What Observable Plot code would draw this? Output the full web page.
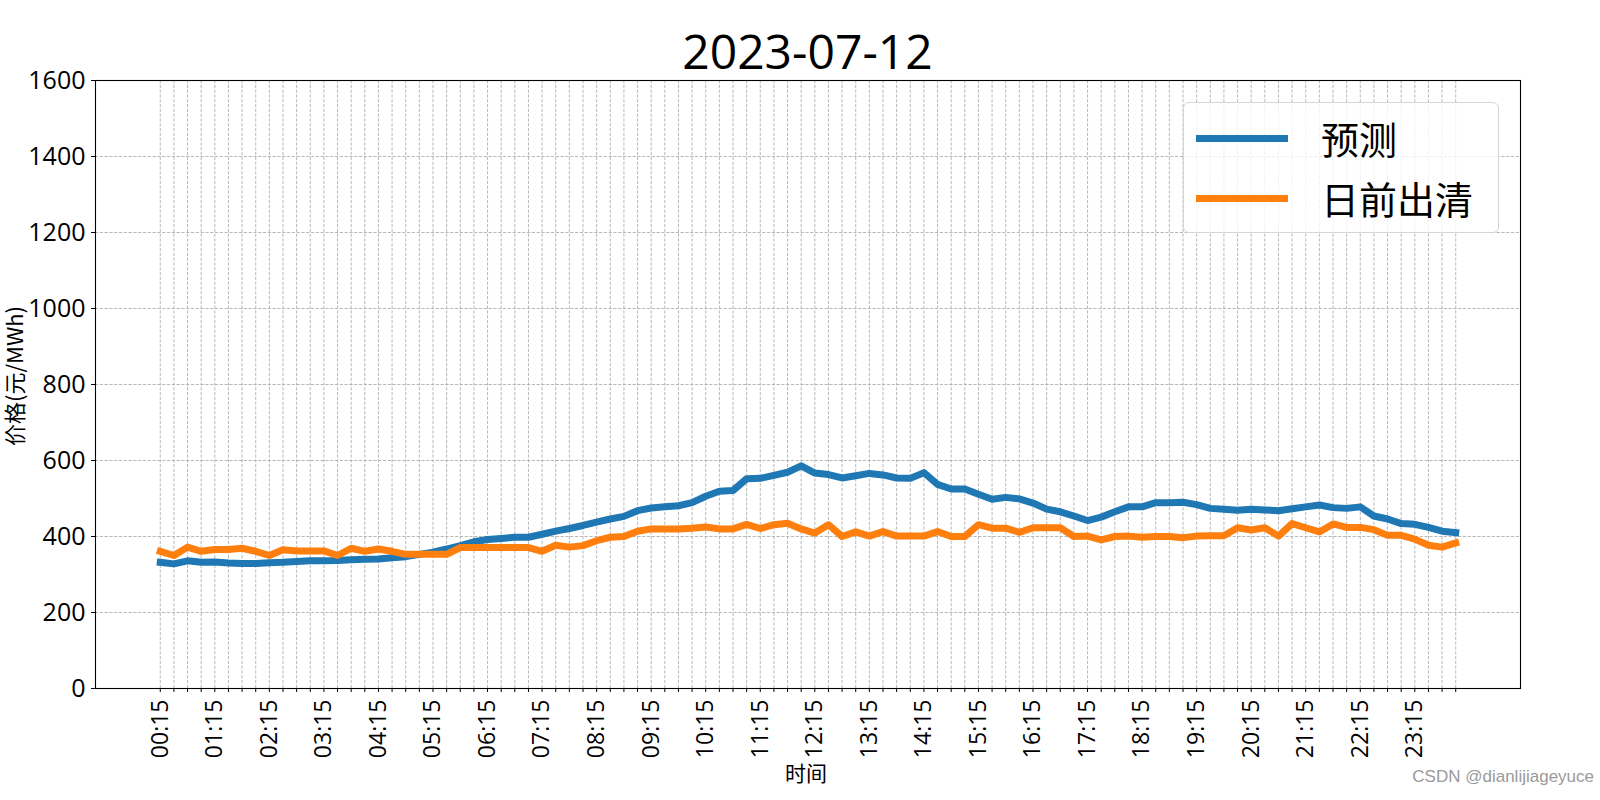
<!DOCTYPE html>
<html>
<head>
<meta charset="utf-8">
<script src="https://cdn.jsdelivr.net/npm/d3@7"></script>
<script src="https://cdn.jsdelivr.net/npm/@observablehq/plot@0.6"></script>
<style>
  html, body { margin: 0; padding: 0; background: #fff; overflow: hidden; }
  #wrap { position: relative; width: 1600px; height: 800px; font-family: "Open Sans", "Noto Sans CJK SC", sans-serif; }
  #chart { position: absolute; left: 0; top: 0; }
  .abs { position: absolute; white-space: nowrap; }
  #title { left: 0; width: 1615px; top: 20px; text-align: center; font-size: 48px; line-height: 62px; color: #000; }
  #ylabel { left: 13px; top: 376px; transform: translate(-50%, -50%) rotate(-90deg); font-size: 22px; line-height: 22px; font-family: "Noto Sans CJK SC", sans-serif; }
  #xlabel { left: 806px; top: 772px; transform: translate(-50%, -50%); font-size: 21px; font-family: "Noto Sans CJK SC", sans-serif; }
  #legend { left: 1183px; top: 102px; width: 314px; height: 129px; border: 1px solid #d5d5d5; border-radius: 6px; background: rgba(255,255,255,0.8); }
  .lg-line { position: absolute; left: 12px; width: 92px; height: 7px; }
  .lg-text { position: absolute; left: 137px; font-size: 38px; line-height: 50px; font-family: "Noto Sans CJK SC", sans-serif; color: #000; }
  #watermark { right: 6px; top: 767px; font-size: 17px; color: #9a9a9a; font-family: "Liberation Sans", Arial, sans-serif; }
</style>
</head>
<body>
<div id="wrap">
  <div id="chart"></div>
  <div id="title" class="abs">2023-07-12</div>
  <div id="ylabel" class="abs">价格(元/MWh)</div>
  <div id="xlabel" class="abs">时间</div>
  <div id="legend" class="abs"></div>
  <div id="watermark" class="abs">CSDN @dianlijiageyuce</div>
</div>
<script>
const times = [
  "00:15","00:30","00:45","01:00","01:15","01:30","01:45","02:00",
  "02:15","02:30","02:45","03:00","03:15","03:30","03:45","04:00",
  "04:15","04:30","04:45","05:00","05:15","05:30","05:45","06:00",
  "06:15","06:30","06:45","07:00","07:15","07:30","07:45","08:00",
  "08:15","08:30","08:45","09:00","09:15","09:30","09:45","10:00",
  "10:15","10:30","10:45","11:00","11:15","11:30","11:45","12:00",
  "12:15","12:30","12:45","13:00","13:15","13:30","13:45","14:00",
  "14:15","14:30","14:45","15:00","15:15","15:30","15:45","16:00",
  "16:15","16:30","16:45","17:00","17:15","17:30","17:45","18:00",
  "18:15","18:30","18:45","19:00","19:15","19:30","19:45","20:00",
  "20:15","20:30","20:45","21:00","21:15","21:30","21:45","22:00",
  "22:15","22:30","22:45","23:00","23:15","23:30","23:45","24:00"
];
const labeledTimes = [
  "00:15","01:15","02:15","03:15","04:15","05:15","06:15","07:15",
  "08:15","09:15","10:15","11:15","12:15","13:15","14:15","15:15",
  "16:15","17:15","18:15","19:15","20:15","21:15","22:15","23:15"
];
const forecast = [
  332,328,336,332,333,330,329,329,331,332,334,336,336,337,339,340,
  341,344,347,353,359,367,376,386,392,395,398,398,406,414,421,429,
  438,446,453,468,475,478,481,489,506,519,521,552,553,561,569,586,
  567,563,554,560,566,562,554,553,568,537,525,525,511,498,503,499,
  488,472,465,454,442,451,465,478,478,489,489,490,484,474,472,469,
  472,470,468,473,478,483,476,474,478,454,446,434,432,424,414,410
];
const dayAhead = [
  361,350,372,361,366,366,369,361,350,365,362,362,362,350,369,361,
  367,361,353,353,353,353,371,371,371,371,371,371,361,377,372,376,
  389,398,400,414,420,420,420,422,425,420,420,432,421,431,435,420,
  409,431,400,412,401,413,401,401,401,413,400,400,431,422,422,411,
  423,423,423,400,401,391,400,401,398,400,400,397,401,402,402,423,
  417,423,401,434,423,412,433,424,424,418,403,403,393,377,372,383
];
const yTicks = [0, 200, 400, 600, 800, 1000, 1200, 1400, 1600];
const seriesNames = ["预测", "日前出清"];
const seriesColors = ["#1f77b4", "#ff7f0e"];

const idx = times.map((t, i) => i);
const rowsF = times.map((t, i) => ({i, t, v: forecast[i]}));
const rowsD = times.map((t, i) => ({i, t, v: dayAhead[i]}));
const labelSet = new Set(labeledTimes);
const n = times.length;
const pad = (n - 1) * 0.05;

const grid = {stroke: "#b0b0b0", strokeOpacity: 1, strokeWidth: 0.9, strokeDasharray: "3.2,1.6"};

const plot = Plot.plot({
  width: 1600,
  height: 800,
  marginLeft: 95,
  marginRight: 80,
  marginTop: 80,
  marginBottom: 112,
  style: {fontFamily: "'Open Sans', 'Noto Sans CJK SC', sans-serif", fontSize: "23px", color: "#000", background: "transparent"},
  x: {type: "linear", domain: [-pad, n - 1 + pad]},
  y: {domain: [0, 1600]},
  marks: [
    Plot.gridY(yTicks, grid),
    Plot.gridX(idx, grid),
    Plot.line(rowsF, {x: "i", y: "v", stroke: seriesColors[0], strokeWidth: 7, strokeLinejoin: "round", strokeLinecap: "square"}),
    Plot.line(rowsD, {x: "i", y: "v", stroke: seriesColors[1], strokeWidth: 7, strokeLinejoin: "round", strokeLinecap: "square"}),
    Plot.frame({stroke: "#000", strokeWidth: 1.1}),
    Plot.axisY(yTicks, {tickSize: 4, tickPadding: 6, label: null, fontSize: 25, tickFormat: d => String(d)}),
    Plot.axisX(idx, {tickSize: 4, tickPadding: 7, tickRotate: -90, label: null, fontSize: 23,
      tickFormat: i => labelSet.has(times[i]) ? times[i] : ""})
  ]
});
document.getElementById("chart").appendChild(plot);

const legend = document.getElementById("legend");
seriesNames.forEach((name, k) => {
  const cy = 35 + k * 60;
  const line = document.createElement("div");
  line.className = "lg-line";
  line.style.top = (cy - 3.5) + "px";
  line.style.background = seriesColors[k];
  legend.appendChild(line);
  const txt = document.createElement("div");
  txt.className = "lg-text";
  txt.style.top = (cy - 25) + "px";
  txt.textContent = name;
  legend.appendChild(txt);
});
</script>
</body>
</html>
